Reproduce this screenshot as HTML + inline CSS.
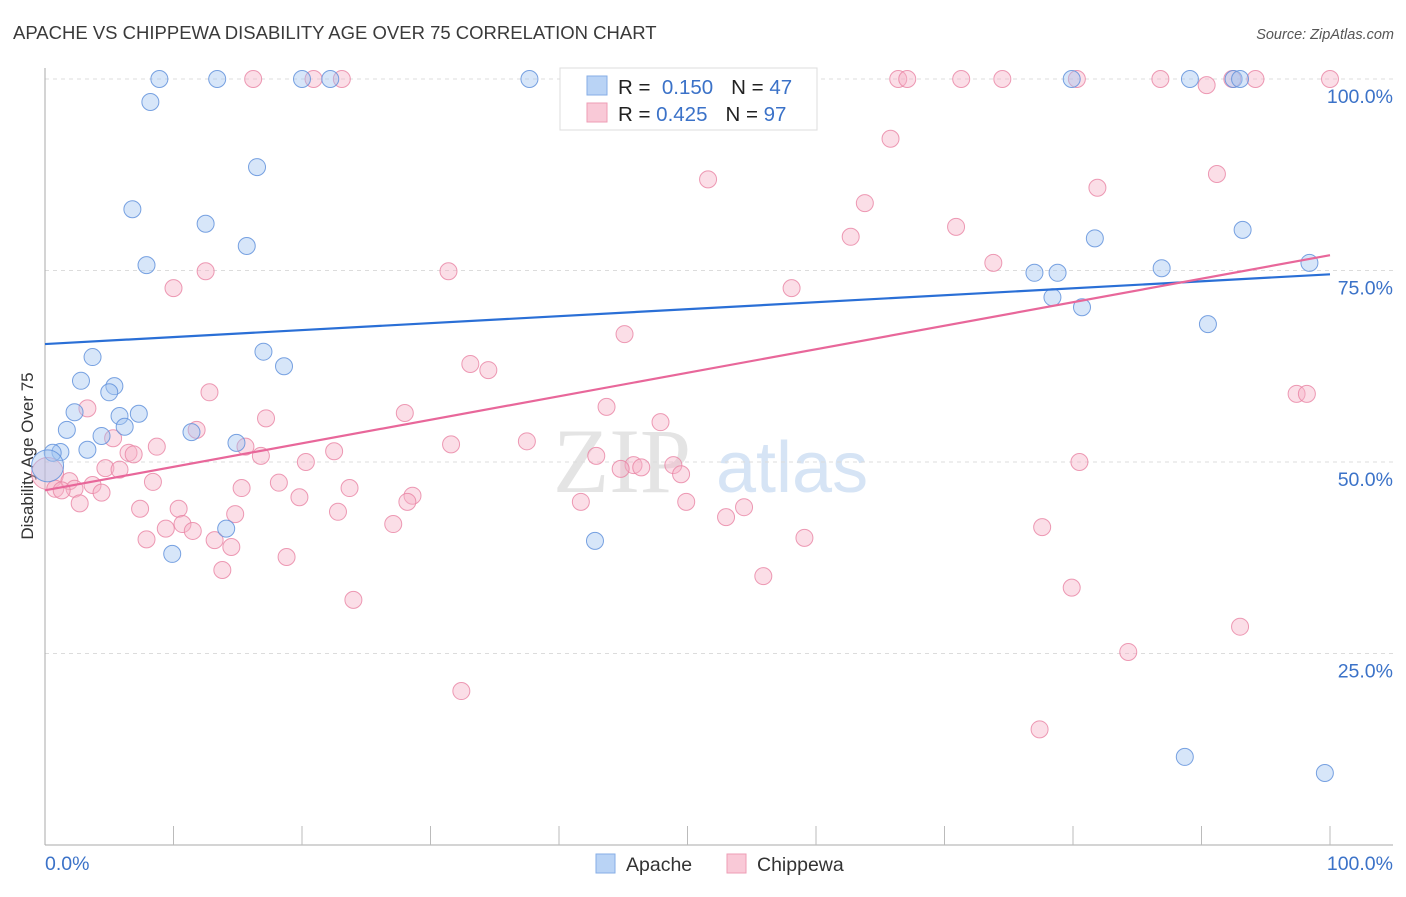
<!DOCTYPE html>
<html><head><meta charset="utf-8"><style>
body{margin:0;background:#fff;font-family:"Liberation Sans",sans-serif}
svg text{font-family:"Liberation Sans",sans-serif}
</style></head><body>
<svg id="c" width="1406" height="892">
<text x="13" y="39" font-size="18.5" fill="#3a3a3a">APACHE VS CHIPPEWA DISABILITY AGE OVER 75 CORRELATION CHART</text>
<text x="1394" y="39" font-size="14.5" fill="#555" font-style="italic" text-anchor="end">Source: ZipAtlas.com</text>
<text transform="translate(33,456) rotate(-90)" font-size="17" fill="#333" text-anchor="middle">Disability Age Over 75</text>
<g><text x="553" y="492" font-size="92" fill="#e4e4e4" font-family="Liberation Serif" style="font-family:'Liberation Serif',serif">ZIP</text><text x="716" y="492" font-size="72" fill="#d6e4f5">atlas</text></g>
<g id="grid"></g><g id="axes"></g><g id="pts"></g><g id="lines"></g>
<g>
<rect x="560" y="68" width="257" height="62" fill="#fff" stroke="#ddd"/>
<rect x="587" y="76" width="20" height="19" fill="#b9d3f5" stroke="#86aee6"/>
<rect x="587" y="103" width="20" height="19" fill="#f9c9d7" stroke="#ee9db6"/>
<text x="618" y="94" font-size="20.5" fill="#222">R = <tspan fill="#3b72c8">&#160;0.150</tspan><tspan dx="18">N = </tspan><tspan fill="#3b72c8">47</tspan></text>
<text x="618" y="121" font-size="20.5" fill="#222">R = <tspan fill="#3b72c8">0.425</tspan><tspan dx="18">N = </tspan><tspan fill="#3b72c8">97</tspan></text>
</g>
<g>
<rect x="596" y="854" width="19" height="19" fill="#b9d3f5" stroke="#86aee6"/>
<text x="626" y="871" font-size="19.5" fill="#333">Apache</text>
<rect x="727" y="854" width="19" height="19" fill="#f9c9d7" stroke="#ee9db6"/>
<text x="757" y="871" font-size="19.5" fill="#333">Chippewa</text>
</g>
</svg>
<script>
const yTicks=[25,50,75,100];
const yTickLabels=["25.0%","50.0%","75.0%","100.0%"];
const apacheX=[8.9,13.4,20.0,22.2,37.7,79.9,89.1,92.5,93.0,8.2,16.5,6.8,12.5,15.7,7.9,3.7,17.0,18.6,2.8,5.4,5.0,2.3,1.7,5.8,7.3,6.2,4.4,3.3,1.2,0.6,11.4,14.9,14.1,9.9,42.8,81.7,86.9,77.0,78.8,78.4,80.7,90.5,93.2,98.4,88.7,99.6,0.2];
const apacheY=[100,100,100,100,100,100,100,100,100,97.0,88.5,83.0,81.1,78.2,75.7,63.7,64.4,62.5,60.6,59.9,59.1,56.5,54.2,56.0,56.3,54.6,53.4,51.6,51.3,51.2,53.9,52.5,41.3,38.0,39.7,79.2,75.3,74.7,74.7,71.5,70.2,68.0,80.3,76.0,11.5,9.4,49.5];
const chipX=[16.2,20.9,23.1,66.4,67.1,71.3,74.5,80.3,86.8,90.4,92.4,94.2,100,65.8,51.6,91.2,81.9,63.8,70.9,62.7,12.5,31.4,10.0,73.8,58.1,45.1,33.1,34.5,12.8,97.4,98.2,3.3,17.2,28.0,43.7,47.9,11.8,5.3,8.7,15.6,31.6,37.5,22.5,16.8,6.5,6.9,42.9,20.3,4.7,5.8,45.8,46.4,44.8,48.9,49.5,80.5,0.2,1.9,3.7,8.4,2.3,0.8,1.3,4.4,15.3,18.2,23.7,2.7,7.4,10.4,19.8,28.6,28.2,41.7,49.9,54.4,53.0,14.8,22.8,10.7,9.4,11.5,27.1,7.9,13.2,14.5,59.1,18.8,13.8,55.9,77.6,79.9,24.0,93.0,84.3,32.4,77.4];
const chipY=[100,100,100,100,100,100,100,100,100,99.2,100,100,100,92.2,86.9,87.6,85.8,83.8,80.7,79.4,74.9,74.9,72.7,76.0,72.7,66.7,62.8,62.0,59.1,58.9,58.9,57.0,55.7,56.4,57.2,55.2,54.2,53.1,52.0,52.0,52.3,52.7,51.4,50.8,51.2,51.0,50.8,50.0,49.2,49.0,49.6,49.3,49.1,49.6,48.4,50.0,48.5,47.5,47.0,47.4,46.5,46.5,46.3,46.0,46.6,47.3,46.6,44.6,43.9,43.9,45.4,45.6,44.8,44.8,44.8,44.1,42.8,43.2,43.5,41.9,41.3,41.0,41.9,39.9,39.8,38.9,40.1,37.6,35.9,35.1,41.5,33.6,32.0,28.5,25.2,20.1,15.1];
const apacheTrend=[65.4,74.5];
const chipTrend=[46.3,77.0];
const NS="http://www.w3.org/2000/svg";
const X0=45,X1=1330,Y0=845,Y100=79;
const sx=v=>X0+(X1-X0)*v/100, sy=v=>Y0-(Y0-Y100)*v/100;
function mk(t,a,p){const e=document.createElementNS(NS,t);for(const k in a)e.setAttribute(k,a[k]);p.appendChild(e);return e;}
const grid=document.getElementById('grid'),axes=document.getElementById('axes'),pts=document.getElementById('pts'),lines=document.getElementById('lines');
yTicks.forEach((v,i)=>{
 const g=mk('line',{x1:X0,x2:1393,y1:sy(v),y2:sy(v),stroke:'#dcdcdc','stroke-dasharray':'4,4'},grid);
 
 
 const t=mk('text',{x:1393,y:sy(v)+24,'font-size':19.5,fill:'#3b72c8','text-anchor':'end'},axes);
 t.textContent=yTickLabels[i];
 
 
});
let a=mk('line',{x1:X0,x2:X0,y1:68,y2:Y0,stroke:'#aaa'},axes);


a=mk('line',{x1:X0,x2:1393,y1:Y0,y2:Y0,stroke:'#aaa'},axes);


for(let v=10;v<=100;v+=10){const t=mk('line',{x1:sx(v),x2:sx(v),y1:826,y2:Y0,stroke:'#bbb'},axes);
 
 }
[[0,'0.0%','start',X0],[100,'100.0%','end',1393]].forEach(d=>{const t=mk('text',{x:d[3],y:870,'font-size':19.5,fill:'#3b72c8','text-anchor':d[2]},axes);t.textContent=d[1];
 
 });
chipX.forEach((v,i)=>{const c=mk('circle',{cx:sx(v),cy:sy(chipY[i]),r:i==56?16:8.5,fill:'rgba(246,176,198,0.42)',stroke:'rgba(232,130,163,0.8)','stroke-width':1},pts);
 
 });
apacheX.forEach((v,i)=>{const c=mk('circle',{cx:sx(v),cy:sy(apacheY[i]),r:i==46?16:8.5,fill:'rgba(160,196,240,0.42)',stroke:'rgba(98,146,220,0.85)','stroke-width':1},pts);
 
 });
let l=mk('line',{x1:sx(0),x2:sx(100),y1:sy(apacheTrend[0]),y2:sy(apacheTrend[1]),stroke:'#2a6fd6','stroke-width':2.2},lines);


l=mk('line',{x1:sx(0),x2:sx(100),y1:sy(chipTrend[0]),y2:sy(chipTrend[1]),stroke:'#e8679a','stroke-width':2.2},lines);


</script>
</body></html>
